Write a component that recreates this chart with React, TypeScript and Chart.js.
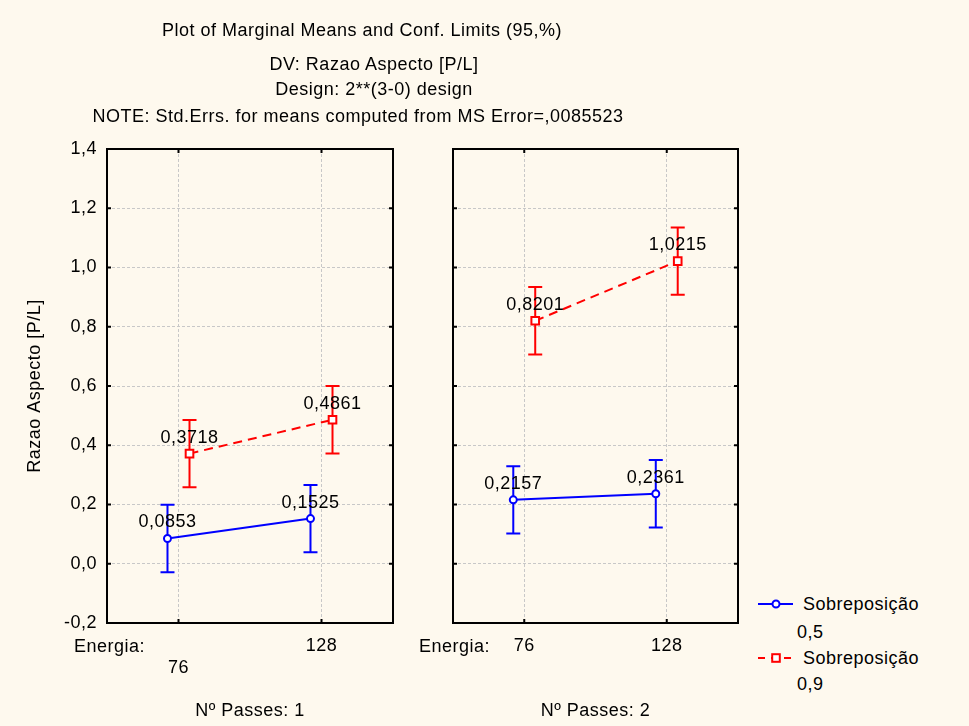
import React, { useEffect, useRef } from 'react';
import { Chart, registerables } from 'chart.js';

Chart.register(...registerables);

// ---------------- data ----------------
const energyLevels = ['76', '128'];
const passesLabels = ['Nº Passes: 1', 'Nº Passes: 2'];
const seriesNames = ['Sobreposição', 'Sobreposição'];
const seriesLevels = ['0,5', '0,9'];
const sobre05Passes1 = [0.0853, 0.1525];
const sobre09Passes1 = [0.3718, 0.4861];
const sobre05Passes2 = [0.2157, 0.2361];
const sobre09Passes2 = [0.8201, 1.0215];
const ciHalfWidth = [0.1137, 0.1137];
const yMin = -0.2;
const yMax = 1.4;
const yStep = 0.2;
const titleLines = [
  'Plot of Marginal Means and Conf. Limits (95,%)',
  'DV: Razao Aspecto [P/L]',
  'Design: 2**(3-0) design',
  'NOTE: Std.Errs. for means computed from MS Error=,0085523',
];
const yAxisTitle = 'Razao Aspecto [P/L]';
const energyTitle = 'Energia:';

// ---------------- style ----------------
const BLUE = '#0000FF';
const RED = '#FF0000';
const BG = '#FEF9EE';
const FONT = "'Liberation Sans', Arial, sans-serif";
const FS = 18;
const LS = '0.5px';
const DODGE = 0.077;

const fmt = (v: number, d: number) => {
  const r = Math.abs(v) < 1e-9 ? 0 : v;
  return r.toFixed(d).replace('.', ',');
};

const statPlugin = {
  id: 'statPlugin',
  beforeDraw(chart: any) {
    try {
      chart.ctx.letterSpacing = LS;
    } catch (e) {
      /* ignore */
    }
  },
  beforeDatasetsDraw(chart: any) {
    const { ctx } = chart;
    const y = chart.scales.y;
    chart.data.datasets.forEach((ds: any, di: number) => {
      const meta = chart.getDatasetMeta(di);
      meta.data.forEach((pt: any, i: number) => {
        const v = ds.data[i].y;
        const h = ds.ci[i];
        const yt = y.getPixelForValue(v + h);
        const yb = y.getPixelForValue(v - h);
        ctx.save();
        ctx.strokeStyle = ds.borderColor;
        ctx.lineWidth = 2;
        ctx.setLineDash([]);
        ctx.beginPath();
        ctx.moveTo(pt.x, yt);
        ctx.lineTo(pt.x, yb);
        ctx.moveTo(pt.x - 7, yt);
        ctx.lineTo(pt.x + 7, yt);
        ctx.moveTo(pt.x - 7, yb);
        ctx.lineTo(pt.x + 7, yb);
        ctx.stroke();
        ctx.restore();
      });
    });
  },
  afterDatasetsDraw(chart: any) {
    const { ctx } = chart;
    chart.data.datasets.forEach((ds: any, di: number) => {
      const meta = chart.getDatasetMeta(di);
      meta.data.forEach((pt: any, i: number) => {
        ctx.save();
        ctx.fillStyle = '#000';
        ctx.font = `${FS}px ${FONT}`;
        ctx.textAlign = 'center';
        ctx.textBaseline = 'middle';
        ctx.fillText(fmt(ds.data[i].y, 4), pt.x, pt.y - 16);
        ctx.restore();
      });
    });
  },
  afterDraw(chart: any) {
    const { ctx, chartArea: a } = chart;
    const x = chart.scales.x;
    const y = chart.scales.y;
    ctx.save();
    ctx.strokeStyle = '#000';
    ctx.lineWidth = 2;
    ctx.setLineDash([]);
    ctx.beginPath();
    y.ticks.forEach((t: any) => {
      const py = y.getPixelForValue(t.value);
      ctx.moveTo(a.left, py);
      ctx.lineTo(a.left + 4, py);
      ctx.moveTo(a.right, py);
      ctx.lineTo(a.right - 4, py);
    });
    x.ticks.forEach((t: any) => {
      const px = x.getPixelForValue(t.value);
      ctx.moveTo(px, a.top);
      ctx.lineTo(px, a.top + 4);
      ctx.moveTo(px, a.bottom);
      ctx.lineTo(px, a.bottom - 4);
    });
    ctx.stroke();
    ctx.strokeRect(a.left, a.top, a.right - a.left, a.bottom - a.top);
    ctx.restore();
  },
};

function makeDatasets(s05: number[], s09: number[]) {
  return [
    {
      label: seriesNames[0] + ' ' + seriesLevels[0],
      data: s05.map((v, i) => ({ x: i - DODGE, y: v })),
      ci: ciHalfWidth,
      borderColor: BLUE,
      backgroundColor: '#FFFFFF',
      borderWidth: 2,
      pointStyle: 'circle',
      pointRadius: 3.5,
      pointBorderWidth: 2,
      pointBackgroundColor: '#FFFFFF',
      pointBorderColor: BLUE,
      tension: 0,
    },
    {
      label: seriesNames[1] + ' ' + seriesLevels[1],
      data: s09.map((v, i) => ({ x: i + DODGE, y: v })),
      ci: ciHalfWidth,
      borderColor: RED,
      backgroundColor: '#FFFFFF',
      borderWidth: 2,
      borderDash: [9, 6],
      pointStyle: 'rect',
      pointRadius: 5.4,
      pointBorderWidth: 2,
      pointBackgroundColor: '#FFFFFF',
      pointBorderColor: RED,
      tension: 0,
    },
  ];
}

function makeConfig(panel: number, s05: number[], s09: number[], yAxisWidth: number, padRight: number): any {
  const first = panel === 0;
  return {
    type: 'line',
    data: { datasets: makeDatasets(s05, s09) },
    plugins: [statPlugin],
    options: {
      responsive: false,
      maintainAspectRatio: false,
      animation: false,
      layout: { padding: { top: 149, right: padRight, left: 0, bottom: 0 } },
      plugins: { legend: { display: false }, tooltip: { enabled: false } },
      scales: {
        x: {
          type: 'linear',
          min: -0.5,
          max: 1.5,
          afterBuildTicks: (s: any) => {
            s.ticks = energyLevels.map((_, i) => ({ value: i }));
          },
          afterFit: (s: any) => {
            s.height = 103;
          },
          ticks: {
            padding: 12.2,
            color: '#000',
            font: { family: FONT, size: FS, lineHeight: 1.2 },
            maxRotation: 0,
            autoSkip: false,
            callback: (_v: any, i: number) => (first && i === 0 ? ['', energyLevels[i]] : energyLevels[i]),
          },
          grid: { color: '#C8C8C8', lineWidth: 1, drawTicks: false },
          border: { display: false, dash: [3, 2] },
          title: {
            display: true,
            text: passesLabels[panel],
            color: '#000',
            font: { family: FONT, size: FS, lineHeight: 1.2 },
            padding: { top: 0, bottom: 4.2 },
          },
        },
        y: {
          type: 'linear',
          min: yMin,
          max: yMax,
          afterFit: (s: any) => {
            s.width = yAxisWidth;
          },
          ticks: {
            display: first,
            stepSize: yStep,
            padding: 10,
            color: '#000',
            font: { family: FONT, size: FS },
            callback: (v: number) => fmt(v, 1),
          },
          grid: { color: '#C8C8C8', lineWidth: 1, drawTicks: false },
          border: { display: false, dash: [3, 2] },
          title: {
            display: first,
            text: yAxisTitle,
            color: '#000',
            font: { family: FONT, size: FS, lineHeight: 1.2 },
            padding: { top: 24.2, bottom: 0 },
          },
        },
      },
    },
  };
}

const abs = (left: number, top: number, extra: any = {}): React.CSSProperties => ({
  position: 'absolute',
  left,
  top,
  whiteSpace: 'nowrap',
  lineHeight: '22px',
  fontSize: FS,
  letterSpacing: LS,
  color: '#000',
  ...extra,
});

export default function App() {
  const c1 = useRef<HTMLCanvasElement>(null);
  const c2 = useRef<HTMLCanvasElement>(null);

  useEffect(() => {
    const ch1 = new Chart(c1.current as HTMLCanvasElement, makeConfig(0, sobre05Passes1, sobre09Passes1, 107, 37));
    const ch2 = new Chart(c2.current as HTMLCanvasElement, makeConfig(1, sobre05Passes2, sobre09Passes2, 23, 12));
    return () => {
      ch1.destroy();
      ch2.destroy();
    };
  }, []);

  const titleCenters = [
    [362, 30],
    [374, 64],
    [374, 89],
    [358, 116],
  ];

  return (
    <div
      style={{
        position: 'fixed',
        left: 0,
        top: 0,
        width: 969,
        height: 726,
        background: BG,
        fontFamily: FONT,
        overflow: 'hidden',
      }}
    >
      <canvas ref={c1} width={430} height={726} style={{ position: 'absolute', left: 0, top: 0, width: 430, height: 726 }} />
      <canvas ref={c2} width={320} height={726} style={{ position: 'absolute', left: 430, top: 0, width: 320, height: 726 }} />
      {titleLines.map((t, i) => (
        <div key={i} style={abs(titleCenters[i][0], titleCenters[i][1], { transform: 'translate(-50%, -50%)' })}>
          {t}
        </div>
      ))}
      <div style={abs(74, 646, { transform: 'translateY(-50%)' })}>{energyTitle}</div>
      <div style={abs(419, 646, { transform: 'translateY(-50%)' })}>{energyTitle}</div>

      <svg style={{ position: 'absolute', left: 755, top: 594 }} width={40} height={20}>
        <line x1={3} y1={10} x2={38} y2={10} stroke={BLUE} strokeWidth={2} />
        <circle cx={21} cy={10} r={3.5} fill="#FFFFFF" stroke={BLUE} strokeWidth={2} />
      </svg>
      <div style={abs(803, 604, { transform: 'translateY(-50%)' })}>{seriesNames[0]}</div>
      <div style={abs(797, 632, { transform: 'translateY(-50%)' })}>{seriesLevels[0]}</div>

      <svg style={{ position: 'absolute', left: 755, top: 648 }} width={40} height={20}>
        <line x1={3} y1={10} x2={39} y2={10} stroke={RED} strokeWidth={2} strokeDasharray="7,6" />
        <rect x={17.2} y={6.2} width={7.6} height={7.6} fill="#FFFFFF" stroke={RED} strokeWidth={2} />
      </svg>
      <div style={abs(803, 658, { transform: 'translateY(-50%)' })}>{seriesNames[1]}</div>
      <div style={abs(797, 684, { transform: 'translateY(-50%)' })}>{seriesLevels[1]}</div>
    </div>
  );
}
